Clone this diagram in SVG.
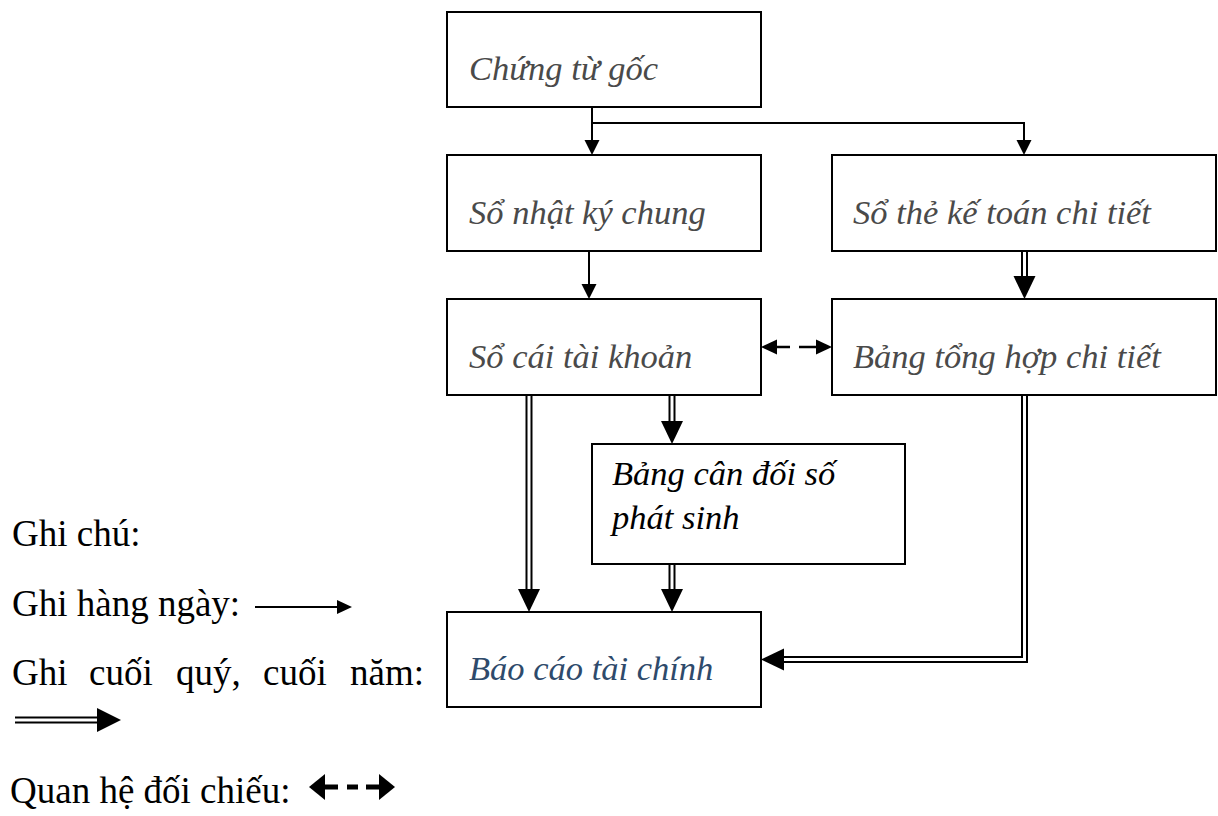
<svg xmlns="http://www.w3.org/2000/svg" width="1218" height="816" viewBox="0 0 1218 816">
<style>
.box{fill:#fff;stroke:#000;stroke-width:2}
.lbl{font-family:"Liberation Serif","Times New Roman",serif;font-style:italic;font-size:34.5px;fill:#4a4a4a}
.blk{fill:#000}
.blue{fill:#2e4a6b}
.leg{font-family:"Liberation Serif","Times New Roman",serif;font-size:37px;fill:#000}
.single{fill:none;stroke:#000;stroke-width:2}
.dblo{fill:none;stroke:#000;stroke-width:7;stroke-linejoin:miter}
.dbli{fill:none;stroke:#fff;stroke-width:3;stroke-linejoin:miter}
.head{fill:#000}
.dash{stroke:#000;stroke-width:2.5}
</style>
<rect width="1218" height="816" fill="#fff"/>
<g id="connectors">
  <!-- daily (single) -->
  <path class="single" d="M592,107 V141"/>
  <polygon class="head" points="592,155 584.5,140 599.5,140"/>
  <path class="single" d="M592,123 H1024 V141"/>
  <polygon class="head" points="1024,155 1016.5,140 1031.5,140"/>
  <path class="single" d="M589,251 V285"/>
  <polygon class="head" points="589,299 581.5,284 596.5,284"/>
  <!-- periodic (double) -->
  <path class="dblo" d="M1024.5,251 V278"/>
  <path class="dbli" d="M1024.5,251 V278"/>
  <polygon class="head" points="1024.5,299 1013.5,276 1035.5,276"/>
  <path class="dblo" d="M529,395 V591"/>
  <path class="dbli" d="M529,395 V591"/>
  <polygon class="head" points="529,612 518,589 540,589"/>
  <path class="dblo" d="M672,395 V423"/>
  <path class="dbli" d="M672,395 V423"/>
  <polygon class="head" points="672,444 661,421 683,421"/>
  <path class="dblo" d="M672,564 V591"/>
  <path class="dbli" d="M672,564 V591"/>
  <polygon class="head" points="672,612 661,589 683,589"/>
  <path class="dblo" d="M1024.5,395 V659.5 H782"/>
  <path class="dbli" d="M1024.5,395 V659.5 H782"/>
  <polygon class="head" points="761,659.5 784,648.5 784,670.5"/>
  <!-- reconciliation (dashed, both ways) -->
  <polygon class="head" points="761,347 777,339.5 777,354.5"/>
  <line class="dash" x1="776" y1="347" x2="790" y2="347"/>
  <line class="dash" x1="799" y1="347" x2="817" y2="347"/>
  <polygon class="head" points="832,347 816,339.5 816,354.5"/>
</g>
<g id="n1"><rect class="box" x="447" y="12" width="314" height="95"/><text class="lbl" x="469" y="80">Chứng từ gốc</text></g>
<g id="n2"><rect class="box" x="447" y="155" width="314" height="96"/><text class="lbl" x="469" y="224">Sổ nhật ký chung</text></g>
<g id="n3"><rect class="box" x="832" y="155" width="384" height="96"/><text class="lbl" x="853" y="224">Sổ thẻ kế toán chi tiết</text></g>
<g id="n4"><rect class="box" x="447" y="299" width="314" height="96"/><text class="lbl" x="469" y="368">Sổ cái tài khoản</text></g>
<g id="n5"><rect class="box" x="832" y="299" width="384" height="96"/><text class="lbl" x="853" y="368">Bảng tổng hợp chi tiết</text></g>
<g id="n6"><rect class="box" x="592" y="444" width="313" height="120"/><text class="lbl blk" x="612" y="485">Bảng cân đối số</text><text class="lbl blk" x="612" y="529">phát sinh</text></g>
<g id="n7"><rect class="box" x="447" y="612" width="314" height="95"/><text class="lbl blue" x="469" y="680">Báo cáo tài chính</text></g>
<g id="legend">
  <text class="leg" x="12" y="546">Ghi chú:</text>
  <text class="leg" x="12" y="616">Ghi hàng ngày:</text>
  <line x1="255" y1="607" x2="340" y2="607" stroke="#000" stroke-width="2"/>
  <polygon class="head" points="352,607 337,600 337,614"/>
  <text class="leg" y="685"><tspan x="12">Ghi</tspan><tspan x="89">cuối</tspan><tspan x="176">quý,</tspan><tspan x="263">cuối</tspan><tspan x="350">năm:</tspan></text>
  <path class="dblo" d="M15,720 H99"/>
  <path class="dbli" d="M15,720 H99"/>
  <polygon class="head" points="121,720 97,708 97,732"/>
  <text class="leg" x="10" y="803">Quan hệ đối chiếu:</text>
  <polygon class="head" points="309,787 325,774 325,800"/>
  <rect x="324" y="784.5" width="14" height="5"/>
  <rect x="347" y="784.5" width="11" height="5"/>
  <rect x="366" y="784.5" width="14" height="5"/>
  <polygon class="head" points="395,787 379,774 379,800"/>
</g>
</svg>
